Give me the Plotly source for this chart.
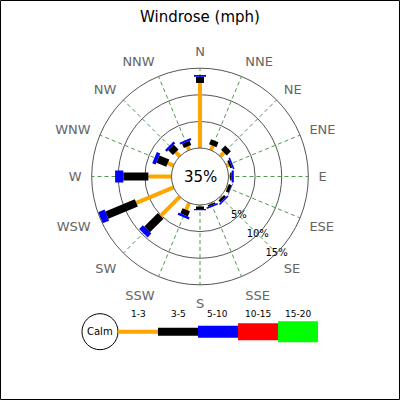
import plotly.graph_objects as go

directions = ['N', 'NNE', 'NE', 'ENE', 'E', 'ESE', 'SE', 'SSE',
              'S', 'SSW', 'SW', 'WSW', 'W', 'WNW', 'NW', 'NNW']

# percentage per speed range (mph) and direction
speed_1_3 = [12.2, 0.9, 1.0, 0.5, 0.3, 0.2, 0.3, 0.2, 0.3, 1.4, 5.1, 7.6, 4.35, 1.2, 1.1, 0.75]
speed_3_5 = [1.2, 1.0, 1.1, 0.4, 0.3, 0.6, 0.5, 0.3, 0.45, 1.05, 3.6, 6.0, 4.7, 2.0, 1.25, 0.85]
speed_5_10 = [0.3, 0.0, 0.0, 0.3, 0.4, 0.1, 0.3, 0.3, 0.25, 0.45, 1.0, 1.3, 1.55, 0.7, 0.45, 0.4]

range_labels = ['1-3', '3-5', '5-10', '10-15', '15-20']
calm_text = '35%'
ring_vals = [0, 5, 10, 15]
ring_text = ['', '5%', '10%', '15%']
label_dir = 'SE'

colors = ['#FFA500', '#000000', '#0000FF', '#FF0000', '#00FF00']
widths = [4, 8, 12, 17, 21]

fig = go.Figure()

base = [0.0] * len(directions)
for k, seg in enumerate([speed_1_3, speed_3_5, speed_5_10]):
    rr, tt = [], []
    for i, d in enumerate(directions):
        if seg[i] > 0:
            rr += [base[i], base[i] + seg[i], None]
            tt += [d, d, None]
        base[i] += seg[i]
    fig.add_trace(go.Scatterpolar(r=rr, theta=tt, mode='lines',
                                  line=dict(color=colors[k], width=widths[k]),
                                  connectgaps=False, showlegend=False,
                                  hoverinfo='skip'))

# ring labels along the SE spoke
fig.add_trace(go.Scatterpolar(r=ring_vals[1:], theta=[label_dir] * 3, mode='text',
                              text=ring_text[1:], textposition='middle center',
                              textfont=dict(size=10, color='black'),
                              cliponaxis=False, showlegend=False, hoverinfo='skip'))

fig.update_layout(
    width=400, height=400,
    margin=dict(l=0, r=0, t=0, b=0),
    paper_bgcolor='white',
    font=dict(family='DejaVu Sans'),
    title=dict(text='Windrose (mph)', x=0.5, xanchor='center', y=1 - 17 / 400,
               yanchor='middle', font=dict(size=15, color='black')),
    polar=dict(
        domain=dict(x=[91.7 / 400, 308.3 / 400], y=[115.2 / 400, 331.8 / 400]),
        hole=28.5 / 108.3,
        bgcolor='white',
        radialaxis=dict(range=[0, 15], tickvals=ring_vals, showticklabels=False,
                        showline=False, ticks='',
                        gridcolor='#555555', gridwidth=1),
        angularaxis=dict(type='category', categoryarray=directions,
                         rotation=90, direction='clockwise',
                         showline=True, linecolor='#555555', linewidth=1,
                         gridcolor='#4f9a4f', griddash='4px,3px', gridwidth=1,
                         ticks='outside', ticklen=7, tickcolor='rgba(0,0,0,0)',
                         tickfont=dict(size=13, color='#666666')),
    ),
)

# centre value
fig.add_annotation(x=0.5, y=223.5 / 400, xref='paper', yref='paper',
                   xanchor='center', yanchor='middle',
                   text=calm_text, showarrow=False,
                   font=dict(size=15, color='black'))

# legend at bottom
ly = (400 - 331.7) / 400
fig.add_shape(type='circle', xref='paper', yref='paper',
              x0=82 / 400, x1=118 / 400, y0=ly - 18 / 400, y1=ly + 18 / 400,
              line=dict(color='black', width=1), fillcolor='white')
fig.add_annotation(x=100 / 400, y=ly, xref='paper', yref='paper', text='Calm',
                   xanchor='center', yanchor='middle',
                   showarrow=False, font=dict(size=10, color='black'))
for k, lab in enumerate(range_labels):
    x0 = (118 + 40 * k) / 400
    x1 = (158 + 40 * k) / 400
    h = widths[k] / 2 / 400
    fig.add_shape(type='rect', xref='paper', yref='paper',
                  x0=x0, x1=x1, y0=ly - h, y1=ly + h,
                  line=dict(width=0), fillcolor=colors[k])
    fig.add_annotation(x=(x0 + x1) / 2, y=(400 - 314) / 400, xref='paper', yref='paper',
                       xanchor='center', yanchor='middle',
                       text=lab, showarrow=False, font=dict(size=9, color='black'))

# outer frame
fig.add_shape(type='rect', xref='paper', yref='paper',
              x0=0.5 / 400, x1=399.5 / 400, y0=0.5 / 400, y1=399.5 / 400,
              line=dict(color='black', width=1))

fig.write_html("out.html", config={'displayModeBar': False},
               post_script="document.body.style.margin='0';")
